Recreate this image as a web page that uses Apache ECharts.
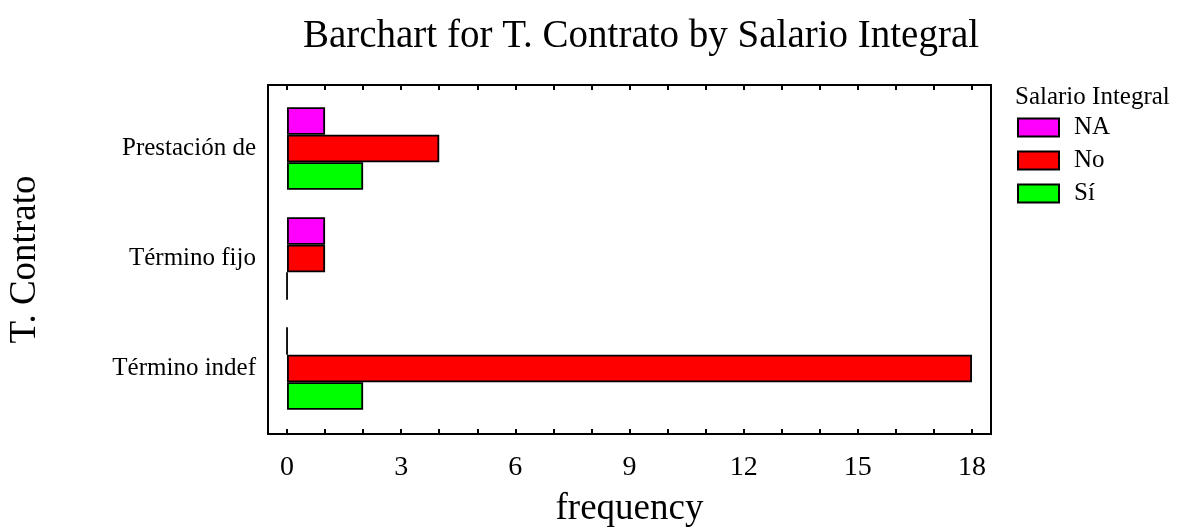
<!DOCTYPE html>
<html>
<head>
<meta charset="utf-8">
<script src="https://cdn.jsdelivr.net/npm/echarts@6/dist/echarts.min.js"></script>
<style>
  html, body { margin: 0; padding: 0; background: #fff; }
  #chart { width: 1201px; height: 529px; }
</style>
</head>
<body>
<div id="chart"></div>
<script>
const categories = ['Prestación de', 'Término fijo', 'Término indef']
const seriesNames = ['NA', 'No', 'Sí']
const valuesNA = [1, 1, 0]
const valuesNo = [4, 1, 18]
const valuesSi = [2, 0, 2]
const tickLabels = [0, 3, 6, 9, 12, 15, 18]
const tickMarks = [0, 1, 2, 3, 4, 5, 6, 7, 8, 9, 10, 11, 12, 13, 14, 15, 16, 17, 18]

const font = 'Liberation Serif'
const colors = ['#ff00ff', '#ff0000', '#00ff00']
const seriesData = [valuesNA, valuesNo, valuesSi]

const chart = echarts.init(document.getElementById('chart'))

const barStyle = (c) => ({ color: c, borderColor: '#000', borderWidth: 1.8 })

chart.setOption({
	animation: false,
	backgroundColor: '#fff',
	textStyle: { fontFamily: font, color: '#000' },
	title: [
		{
			text: 'Barchart for T. Contrato by Salario Integral',
			left: 636, top: 12, textAlign: 'center',
			textStyle: { fontFamily: font, fontSize: 39, fontWeight: 'normal', color: '#000' },
		},
		{
			text: 'Salario Integral',
			left: 1010, top: 80,
			textStyle: { fontFamily: font, fontSize: 25, fontWeight: 'normal', color: '#000' },
		},
	],
	legend: {
		data: seriesNames,
		orient: 'vertical',
		left: 1017, top: 115,
		padding: 0,
		icon: 'rect',
		itemWidth: 41, itemHeight: 18, itemGap: 8,
		textStyle: { fontFamily: font, fontSize: 25, color: '#000', padding: [0, 0, 0, 10] },
	},
	grid: [
		// data area
		{ left: 268, top: 93.5, width: 723, height: 330, show: false, outerBoundsMode: 'none' },
		// frame
		{ left: 268, top: 85, width: 723, height: 349, show: true, borderColor: '#000', borderWidth: 2, backgroundColor: 'transparent', outerBoundsMode: 'none' },
	],
	xAxis: [
		{ type: 'value', gridIndex: 0, min: -0.5, max: 18.5, show: false },
		{
			type: 'value', gridIndex: 1, min: -0.5, max: 18.5, position: 'bottom',
			name: 'frequency', nameLocation: 'middle', nameGap: 57,
			nameTextStyle: { fontFamily: font, fontSize: 37, color: '#000' },
			axisLine: { show: true, lineStyle: { color: '#000', width: 2 } },
			axisTick: { show: true, inside: true, length: 5, customValues: tickMarks, lineStyle: { color: '#000', width: 2 } },
			axisLabel: { customValues: tickLabels, margin: 20, fontFamily: font, fontSize: 28, color: '#000' },
			splitLine: { show: false },
		},
		{
			type: 'value', gridIndex: 1, min: -0.5, max: 18.5, position: 'top',
			axisLine: { show: true, lineStyle: { color: '#000', width: 2 } },
			axisTick: { show: true, inside: true, length: 5, customValues: tickMarks, lineStyle: { color: '#000', width: 2 } },
			axisLabel: { show: false },
			splitLine: { show: false },
		},
	],
	yAxis: [
		{
			type: 'category', gridIndex: 0, data: categories, inverse: true,
			axisLine: { show: false }, axisTick: { show: false },
			axisLabel: { margin: 12, fontFamily: font, fontSize: 25, color: '#000' },
		},
		{
			type: 'value', gridIndex: 1,
			name: 'T. Contrato', nameLocation: 'middle', nameGap: 224, nameRotate: 90,
			nameTextStyle: { fontFamily: font, fontSize: 37, color: '#000' },
			axisLine: { show: false }, axisTick: { show: false }, axisLabel: { show: false },
			splitLine: { show: false },
		},
	],
	series: seriesNames.map((name, i) => ({
		name,
		type: 'bar',
		xAxisIndex: 0, yAxisIndex: 0,
		data: seriesData[i],
		barWidth: 27.5,
		barGap: '0%',
		itemStyle: barStyle(colors[i]),
	})),
})

window.addEventListener('resize', () => chart.resize())
</script>
</body>
</html>
